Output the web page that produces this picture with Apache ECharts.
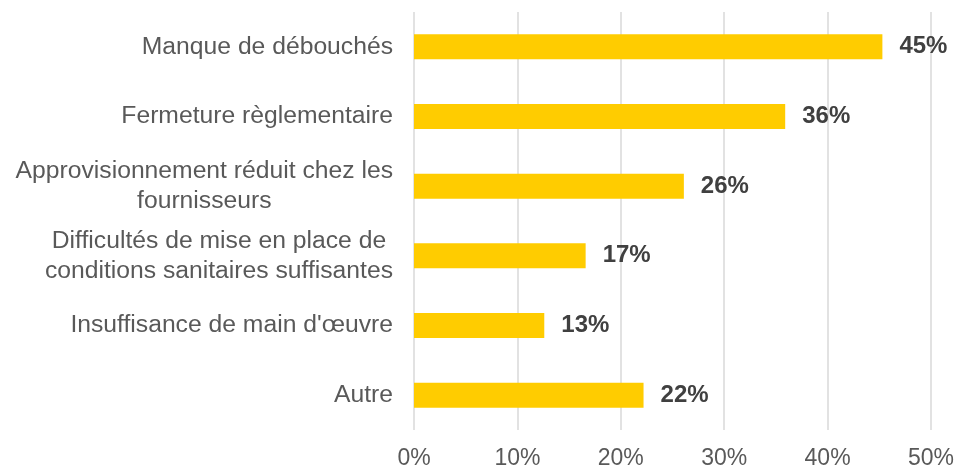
<!DOCTYPE html>
<html>
<head>
<meta charset="utf-8">
<script src="https://cdn.jsdelivr.net/npm/echarts@6/dist/echarts.min.js"></script>
<style>
  html, body { margin: 0; padding: 0; background: #fff; }
  #chart { width: 957px; height: 471px; }
</style>
</head>
<body>
<div id="chart"></div>
<script>
// catégories (de haut en bas)
var categories = [
    'Manque de débouchés',
    'Fermeture règlementaire',
    'Approvisionnement réduit chez les\nfournisseurs',
    'Difficultés de mise en place de\nconditions sanitaires suffisantes',
    "Insuffisance de main d'œuvre",
    'Autre'
];
// valeurs en %
var values = [45.3, 35.9, 26.1, 16.6, 12.6, 22.2];
var valueLabels = ['45%', '36%', '26%', '17%', '13%', '22%'];
var ticks = [0, 10, 20, 30, 40, 50];

var FONT = '"Liberation Sans", Arial, sans-serif';

let chart = echarts.init(document.getElementById('chart'));

let option = {
    animation: false,
    grid: {
        top: 12,
        bottom: 41,
        left: 414,
        right: 26,
        containLabel: false
    },
    xAxis: {
        type: 'value',
        min: ticks[0],
        max: ticks[ticks.length - 1],
        interval: 10,
        axisLine: { show: false },
        axisTick: { show: false },
        splitLine: { show: true, lineStyle: { color: '#d9d9d9', width: 1.5 } },
        axisLabel: {
            formatter: '{value}%',
            color: '#595959',
            fontSize: 23,
            fontFamily: FONT,
            margin: 17
        }
    },
    yAxis: {
        type: 'category',
        inverse: true,
        data: categories,
        axisLine: { show: false },
        axisTick: { show: false },
        axisLabel: {
            margin: 21,
            color: '#595959',
            fontSize: 24.7,
            fontFamily: FONT,
            lineHeight: 30,
            formatter: function (value) {
                // lignes centrées entre elles, bloc aligné à droite
                return value.split('\n').map(l => '{c|' + l + '}').join('\n');
            },
            rich: {
                c: {
                    align: 'center',
                    color: '#595959',
                    fontSize: 24.7,
                    fontFamily: FONT,
                    lineHeight: 30
                }
            }
        }
    },
    series: [{
        type: 'bar',
        data: values,
        barWidth: 25,
        itemStyle: { color: '#ffcc00' },
        label: {
            show: true,
            position: 'right',
            distance: 17,
            color: '#404040',
            fontSize: 24,
            fontWeight: 'bold',
            fontFamily: FONT,
            formatter: p => valueLabels[p.dataIndex]
        }
    }]
};

chart.setOption(option);
</script>
</body>
</html>
